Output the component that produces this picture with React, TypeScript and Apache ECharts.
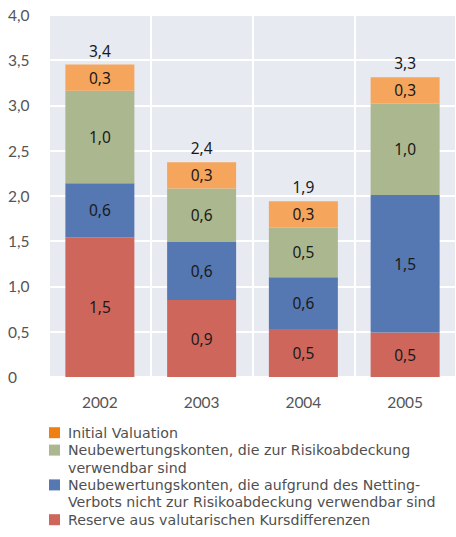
import React, { useEffect, useRef } from "react";
import * as echarts from "echarts";

const categories = ["2002", "2003", "2004", "2005"];
const seriesNames = [
  "Reserve aus valutarischen Kursdifferenzen",
  "Neubewertungskonten, die aufgrund des Netting-Verbots nicht zur Risikoabdeckung verwendbar sind",
  "Neubewertungskonten, die zur Risikoabdeckung verwendbar sind",
  "Initial Valuation",
];
const reserve = [1.54, 0.85, 0.53, 0.49];
const nettingBlocked = [0.6, 0.64, 0.57, 1.52];
const usable = [1.02, 0.59, 0.55, 1.01];
const initialValuation = [0.29, 0.29, 0.29, 0.29];
const totals = [3.4, 2.4, 1.9, 3.3];
const barLabels = [
  [1.5, 0.9, 0.5, 0.5],
  [0.6, 0.6, 0.6, 1.5],
  [1.0, 0.6, 0.5, 1.0],
  [0.3, 0.3, 0.3, 0.3],
];
const legendLabels = [
  ["Initial Valuation"],
  ["Neubewertungskonten, die zur Risikoabdeckung", "verwendbar sind"],
  ["Neubewertungskonten, die aufgrund des Netting-", "Verbots nicht zur Risikoabdeckung verwendbar sind"],
  ["Reserve aus valutarischen Kursdifferenzen"],
];
const barColors = ["#CF665C", "#5577B2", "#ABB78E", "#F5A55C"];
const legendColors = ["#F07F12", "#ABB78E", "#5577B2", "#CF665C"];

const fmt = (v: number) => v.toFixed(1).replace(".", ",");

export default function App() {
  const ref = useRef<HTMLDivElement>(null);
  useEffect(() => {
    if (!ref.current) return;
    const chart = echarts.init(ref.current, null, { renderer: "svg" });
    const values = [reserve, nettingBlocked, usable, initialValuation];
    const series: any[] = values.map((d, i) => ({
      name: seriesNames[i],
      type: "bar",
      stack: "total",
      data: d,
      barWidth: 69,
      itemStyle: { color: barColors[i] },
      label: {
        show: true,
        position: "inside",
        formatter: (p: any) => fmt(barLabels[i][p.dataIndex]),
        fontFamily: "Noto Sans",
        fontSize: 15.5,
        color: "#1a1a1a",
      },
    }));
    series.push({
      name: "Summe",
      type: "bar",
      stack: "total",
      data: totals.map(() => 0),
      barWidth: 69,
      itemStyle: { color: "transparent" },
      label: {
        show: true,
        position: "top",
        distance: 6,
        formatter: (p: any) => fmt(totals[p.dataIndex]),
        fontFamily: "Noto Sans",
        fontSize: 15.5,
        color: "#1a1a1a",
      },
    });

    const graphics: any[] = [];
    const lineH = 17.4;
    let y = 432.7;
    legendLabels.forEach((lines, i) => {
      graphics.push({
        type: "rect",
        shape: { x: 49, y: y - 5.5, width: 11, height: 11 },
        style: { fill: legendColors[i] },
      });
      lines.forEach((line, j) => {
        graphics.push({
          type: "text",
          x: 68,
          y: y + j * lineH,
          style: {
            text: line,
            fontFamily: "DejaVu Sans",
            fontSize: 14.2,
            fill: "#505050",
            verticalAlign: "middle",
            align: "left",
          },
        });
      });
      y += lines.length * lineH;
    });

    chart.setOption({
      animation: false,
      backgroundColor: "#ffffff",
      grid: { left: 49, right: -5, top: 14.7, bottom: 160, backgroundColor: "#E8EAF2", show: true, borderWidth: 0 },
      xAxis: {
        type: "category",
        data: categories,
        axisLine: { show: false },
        axisTick: { show: false },
        splitLine: { show: true, lineStyle: { color: "#ffffff", width: 2 } },
        axisLabel: { fontFamily: "Lato", fontSize: 15.5, color: "#555555", margin: 17 },
      },
      yAxis: {
        type: "value",
        min: 0,
        max: 4,
        interval: 0.5,
        axisLine: { show: false },
        axisTick: { show: false },
        splitLine: { show: true, lineStyle: { color: "#ffffff", width: 2 } },
        axisLabel: {
          fontFamily: "Lato",
          fontSize: 15.5,
          color: "#555555",
          align: "left",
          margin: 41,
          formatter: (v: number) => (v === 0 ? "0" : fmt(v)),
        },
      },
      legend: { show: false },
      series,
      graphic: graphics,
    });
    return () => chart.dispose();
  }, []);
  return <div ref={ref} style={{ position: "fixed", left: 0, top: 0, width: 456, height: 537 }} />;
}
